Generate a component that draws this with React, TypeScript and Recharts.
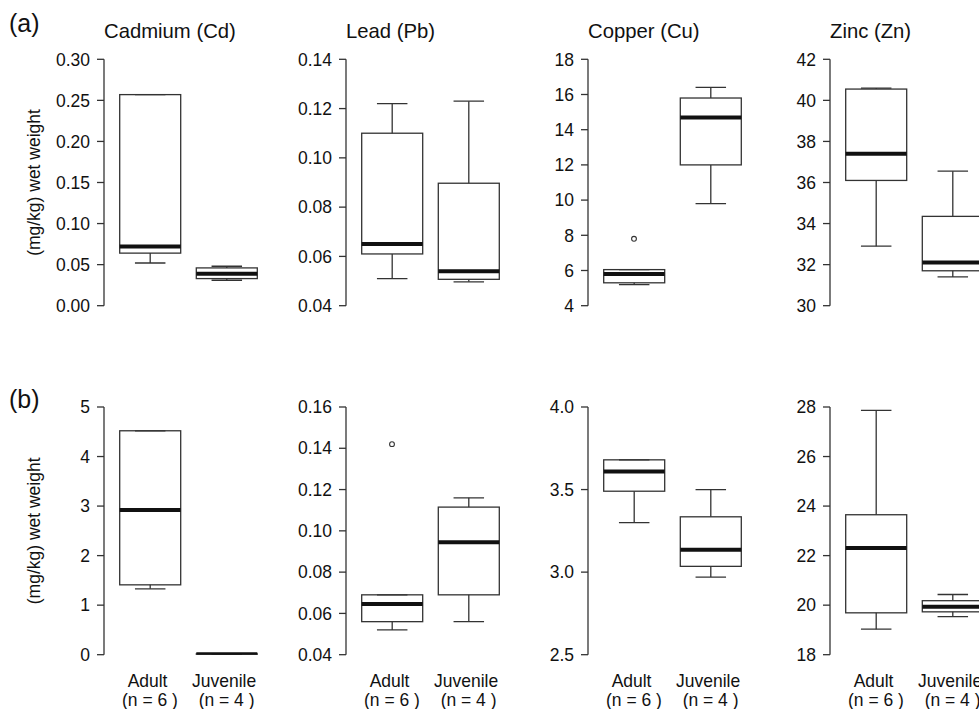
import React from "react";
import { ComposedChart, Bar, Scatter, XAxis, YAxis } from "recharts";

// ---------- data ----------
const groups = ["Adult", "Juvenile"];
const groupN = ["(n = 6 )", "(n = 4 )"];
const metals = ["Cadmium (Cd)", "Lead (Pb)", "Copper (Cu)", "Zinc (Zn)"];
const rowLetters = ["(a)", "(b)"];
const yLabel = "(mg/kg) wet weight";

// each stats array: [min, Q1, median, Q3, max]
const topCdAdult = [0.052, 0.064, 0.072, 0.257, 0.257];
const topCdJuvenile = [0.031, 0.033, 0.039, 0.046, 0.048];
const topPbAdult = [0.051, 0.061, 0.065, 0.11, 0.122];
const topPbJuvenile = [0.0497, 0.0507, 0.054, 0.0897, 0.123];
const topCuAdult = [5.2, 5.3, 5.8, 6.05, 6.05];
const topCuJuvenile = [9.8, 12.0, 14.7, 15.8, 16.4];
const topZnAdult = [32.9, 36.1, 37.4, 40.55, 40.6];
const topZnJuvenile = [31.4, 31.7, 32.1, 34.35, 36.55];
const topCuOutliers = [7.8, null];

const botCdAdult = [1.33, 1.41, 2.92, 4.52, 4.52];
const botCdJuvenile = [0.0, 0.005, 0.01, 0.015, 0.02];
const botPbAdult = [0.052, 0.056, 0.0646, 0.069, 0.069];
const botPbJuvenile = [0.056, 0.069, 0.0945, 0.1115, 0.116];
const botCuAdult = [3.3, 3.49, 3.61, 3.68, 3.68];
const botCuJuvenile = [2.97, 3.035, 3.135, 3.335, 3.5];
const botZnAdult = [19.03, 19.69, 22.31, 23.65, 27.86];
const botZnJuvenile = [19.54, 19.73, 19.94, 20.18, 20.43];
const botPbOutliers = [0.142, null];

const topCdTicks = [0, 0.05, 0.1, 0.15, 0.2, 0.25, 0.3];
const topPbTicks = [0.04, 0.06, 0.08, 0.1, 0.12, 0.14];
const topCuTicks = [4, 6, 8, 10, 12, 14, 16, 18];
const topZnTicks = [30, 32, 34, 36, 38, 40, 42];
const botCdTicks = [0, 1, 2, 3, 4, 5];
const botPbTicks = [0.04, 0.06, 0.08, 0.1, 0.12, 0.14, 0.16];
const botCuTicks = [2.5, 3.0, 3.5, 4.0];
const botZnTicks = [18, 20, 22, 24, 26, 28];

const topDecimals = [2, 2, 0, 0];
const botDecimals = [0, 2, 1, 0];

// ---------- styles ----------
const FONT = '"Liberation Sans", Arial, Helvetica, sans-serif';
const TEXT = "#111";
const LINE = "#333";
const LW = 1.3;

const COL_STEP = 242;
const AXIS_X = 104; // local x of y-axis line in each chart
const PLOT_W = 167;
const CHART_W = AXIS_X + PLOT_W;

type Panel = {
  title: string;
  adult: number[];
  juvenile: number[];
  outliers: (number | null)[] | null;
  ticks: number[];
  decimals: number;
};

const topPanels: Panel[] = [
  { title: metals[0], adult: topCdAdult, juvenile: topCdJuvenile, outliers: null, ticks: topCdTicks, decimals: topDecimals[0] },
  { title: metals[1], adult: topPbAdult, juvenile: topPbJuvenile, outliers: null, ticks: topPbTicks, decimals: topDecimals[1] },
  { title: metals[2], adult: topCuAdult, juvenile: topCuJuvenile, outliers: topCuOutliers, ticks: topCuTicks, decimals: topDecimals[2] },
  { title: metals[3], adult: topZnAdult, juvenile: topZnJuvenile, outliers: null, ticks: topZnTicks, decimals: topDecimals[3] },
];
const botPanels: Panel[] = [
  { title: "", adult: botCdAdult, juvenile: botCdJuvenile, outliers: null, ticks: botCdTicks, decimals: botDecimals[0] },
  { title: "", adult: botPbAdult, juvenile: botPbJuvenile, outliers: botPbOutliers, ticks: botPbTicks, decimals: botDecimals[1] },
  { title: "", adult: botCuAdult, juvenile: botCuJuvenile, outliers: null, ticks: botCuTicks, decimals: botDecimals[2] },
  { title: "", adult: botZnAdult, juvenile: botZnJuvenile, outliers: null, ticks: botZnTicks, decimals: botDecimals[3] },
];

// ---------- shapes ----------
const BoxShape = (props: any) => {
  const { x, y, width, height, payload } = props;
  const s: number[] = payload.stats;
  const lo = s[0];
  const hi = s[4];
  const top = Math.min(y, y + height);
  const bot = Math.max(y, y + height);
  const span = hi - lo;
  const py = (v: number) => (span === 0 ? top : top + ((hi - v) / span) * (bot - top));
  const cx = x + width / 2;
  const capHalf = width / 4;
  const yMin = py(s[0]);
  const yQ1 = py(s[1]);
  const yMed = py(s[2]);
  const yQ3 = py(s[3]);
  const yMax = py(s[4]);
  return (
    <g>
      <line x1={cx} x2={cx} y1={yMax} y2={yQ3} stroke={LINE} strokeWidth={LW} />
      <line x1={cx} x2={cx} y1={yQ1} y2={yMin} stroke={LINE} strokeWidth={LW} />
      <line x1={cx - capHalf} x2={cx + capHalf} y1={yMax} y2={yMax} stroke={LINE} strokeWidth={LW} />
      <line x1={cx - capHalf} x2={cx + capHalf} y1={yMin} y2={yMin} stroke={LINE} strokeWidth={LW} />
      <rect x={x} y={yQ3} width={width} height={Math.max(yQ1 - yQ3, 0)} fill="none" stroke={LINE} strokeWidth={LW} />
      <line x1={x} x2={x + width} y1={yMed} y2={yMed} stroke="#111" strokeWidth={4} />
    </g>
  );
};

const OutlierShape = (props: any) => {
  const { cx, cy, payload } = props;
  if (payload == null || payload.outlier == null || !isFinite(cx) || !isFinite(cy)) return <g />;
  return <circle cx={cx} cy={cy} r={2.4} fill="none" stroke={LINE} strokeWidth={1.1} />;
};

const GroupTick = (props: any) => {
  const { x, y, payload } = props;
  const i = groups.indexOf(payload.value);
  return (
    <g>
      <text
        x={x}
        y={y + 32.8}
        textAnchor="middle"
        fontSize={17.5}
        fontFamily={FONT}
        fill={TEXT}
        style={{ whiteSpace: "pre" }}
      >
        {payload.value + " "}
      </text>
      <text x={x} y={y + 51.3} textAnchor="middle" fontSize={17.5} fontFamily={FONT} fill={TEXT}>
        {groupN[i]}
      </text>
    </g>
  );
};

// ---------- panel chart ----------
type RowCfg = {
  top: number;
  marginTop: number;
  plotH: number;
  bottomAxis: boolean;
  letter: string;
  letterY: number;
  titleY: number;
};

const topRow: RowCfg = { top: 0, marginTop: 59.3, plotH: 246.4, bottomAxis: false, letter: rowLetters[0], letterY: 32, titleY: 38.3 };
const botRow: RowCfg = { top: 340, marginTop: 67, plotH: 247.7, bottomAxis: true, letter: rowLetters[1], letterY: 68, titleY: 0 };

const PanelChart = ({ panel, col, row }: { panel: Panel; col: number; row: RowCfg }) => {
  const data = groups.map((g, i) => {
    const s = i === 0 ? panel.adult : panel.juvenile;
    return {
      group: g,
      stats: s,
      range: [s[0], s[4]],
      outlier: panel.outliers ? panel.outliers[i] : null,
    };
  });
  const axisH = row.bottomAxis ? 60 : 0;
  const marginBottom = row.bottomAxis ? 0 : 12;
  const height = row.marginTop + row.plotH + axisH + marginBottom;
  const lo = panel.ticks[0];
  const hi = panel.ticks[panel.ticks.length - 1];

  const renderLabel = () => (
    <g>
      {panel.title ? (
        <text x={AXIS_X} y={row.titleY} fontSize={20.3} fontFamily={FONT} fill={TEXT} textAnchor="start">
          {panel.title}
        </text>
      ) : null}
      {col === 0 ? (
        <>
          <text x={9} y={row.letterY} fontSize={25} fontFamily={FONT} fill={TEXT} textAnchor="start">
            {row.letter}
          </text>
          <text
            x={39.8}
            y={row.marginTop + row.plotH / 2}
            transform={`rotate(-90 39.8 ${row.marginTop + row.plotH / 2})`}
            fontSize={17.5}
            fontFamily={FONT}
            fill={TEXT}
            textAnchor="middle"
          >
            {yLabel}
          </text>
        </>
      ) : null}
    </g>
  );

  return (
    <div style={{ position: "absolute", left: col * COL_STEP, top: row.top }}>
      <ComposedChart
        width={CHART_W}
        height={height}
        data={data}
        margin={{ top: row.marginTop, right: 0, bottom: marginBottom, left: 0 }}
      >
        <XAxis
          dataKey="group"
          type="category"
          hide={!row.bottomAxis}
          height={axisH}
          padding={{ left: 7.7, right: 6.1 }}
          axisLine={false}
          tickLine={false}
          tickSize={0}
          tickMargin={0}
          interval={0}
          tick={<GroupTick />}
        />
        <YAxis
          type="number"
          domain={[lo, hi]}
          ticks={panel.ticks}
          interval={0}
          allowDataOverflow
          width={AXIS_X}
          tickSize={7}
          tickMargin={7}
          tickFormatter={(v: number) => v.toFixed(panel.decimals)}
          axisLine={{ stroke: LINE, strokeWidth: LW }}
          tickLine={{ stroke: LINE, strokeWidth: LW }}
          tick={{ fontSize: 17.5, fill: TEXT, fontFamily: FONT }}
          label={renderLabel}
        />
        <Bar dataKey="range" barSize={61} shape={<BoxShape />} isAnimationActive={false} />
        {panel.outliers ? (
          <Scatter dataKey="outlier" shape={<OutlierShape />} isAnimationActive={false} />
        ) : null}
      </ComposedChart>
    </div>
  );
}

export default function App() {
  return (
    <div
      style={{
        position: "fixed",
        left: 0,
        top: 0,
        width: 979,
        height: 709,
        overflow: "hidden",
        background: "#fff",
        fontFamily: FONT,
      }}
    >
      {topPanels.map((p, i) => (
        <PanelChart key={"t" + i} panel={p} col={i} row={topRow} />
      ))}
      {botPanels.map((p, i) => (
        <PanelChart key={"b" + i} panel={p} col={i} row={botRow} />
      ))}
    </div>
  );
}
